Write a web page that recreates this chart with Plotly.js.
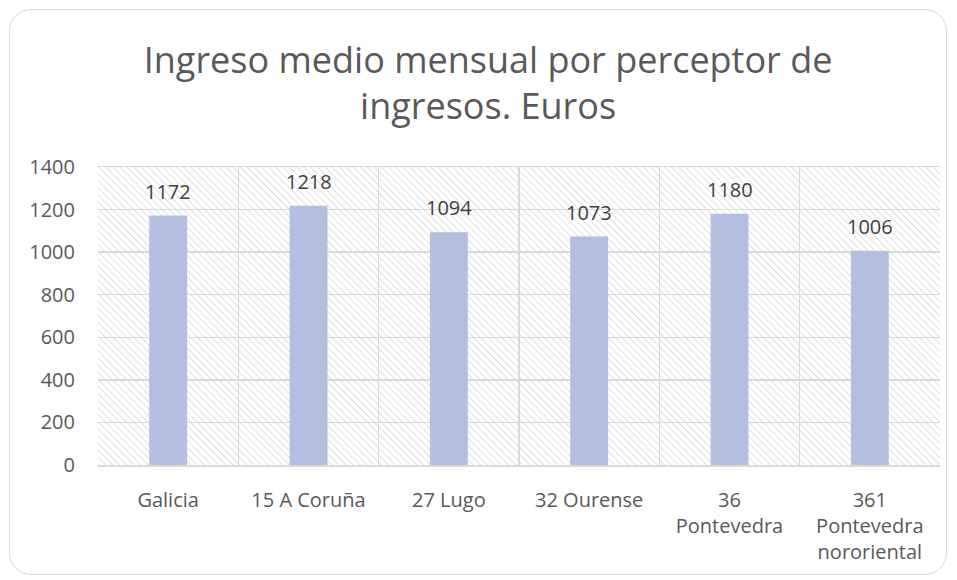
<!DOCTYPE html>
<html>
<head>
<meta charset="utf-8">
<script src="https://cdn.plot.ly/plotly-3.0.1.min.js"></script>
<style>
html,body{margin:0;padding:0;background:#fff;}
#frame{position:absolute;left:9px;top:9px;width:936px;height:564px;border:1.5px solid #d9d9d9;border-radius:22px;}
#chart{position:absolute;left:0;top:0;width:957px;height:580px;}
</style>
</head>
<body>
<div id="frame"></div>
<div id="chart"></div>
<script>
const categories = ["Galicia", "15 A Coruña", "27 Lugo", "32 Ourense", "36<br>Pontevedra", "361<br>Pontevedra<br>nororiental"];
const values = [1172, 1218, 1094, 1073, 1180, 1006];
const yTicks = [0, 200, 400, 600, 800, 1000, 1200, 1400];
const titleText = "Ingreso medio mensual por perceptor de<br>ingresos. Euros";

const FONT = "Open Sans, Segoe UI, DejaVu Sans, sans-serif";

// diagonal hatch for plot background
const W = 842, H = 297;
const svg = `<svg xmlns="http://www.w3.org/2000/svg" width="${W}" height="${H}" viewBox="0 0 ${W} ${H}" preserveAspectRatio="none">
<defs><pattern id="p" width="5" height="5" patternUnits="userSpaceOnUse" patternTransform="rotate(-45)">
<rect width="5" height="5" fill="#ffffff"/><line x1="0" y1="0" x2="0" y2="5" stroke="#d2d2d2" stroke-width="1.3"/></pattern></defs>
<rect width="${W}" height="${H}" fill="url(#p)"/></svg>`;
const hatchUri = "data:image/svg+xml;charset=utf-8," + encodeURIComponent(svg);

const bars = {
  type: "bar", x: categories, y: values, width: 0.27,
  marker: {color: "#b4bfdf", line: {width: 0}},
  hoverinfo: "x+y", showlegend: false
};

const annotations = categories.map((c, i) => ({
  x: c, y: values[i], xref: "x", yref: "y", text: String(values[i]),
  showarrow: false, yanchor: "bottom", yshift: 9,
  font: {family: FONT, size: 20, color: "#404040"}
}));

const layout = {
  width: 957, height: 580,
  margin: {l: 98, r: 17, t: 167, b: 115},
  paper_bgcolor: "rgba(0,0,0,0)",
  plot_bgcolor: "rgba(0,0,0,0)",
  title: {text: titleText, x: 0.51, xanchor: "center", xref: "container", y: 0.875, yanchor: "top", yref: "container",
    font: {family: FONT, size: 36, color: "#595959"}},
  images: [{source: hatchUri, xref: "paper", yref: "paper", x: 0, y: 1, sizex: 1, sizey: 1,
    xanchor: "left", yanchor: "top", sizing: "stretch", layer: "below"}],
  xaxis: {type: "category", tickson: "boundaries", showgrid: true, gridcolor: "#d9d9d9", gridwidth: 1.5,
    zeroline: false, showline: true, linecolor: "#d9d9d9", linewidth: 1.5, mirror: true, ticks: "",
    tickfont: {family: FONT, size: 20, color: "#595959"}, ticklabelstandoff: 16, fixedrange: true},
  yaxis: {range: [0, 1400], tickvals: yTicks, showgrid: true, gridcolor: "#d9d9d9", gridwidth: 1.5,
    zeroline: false, showline: false, ticks: "", ticklabelstandoff: 22,
    tickfont: {family: FONT, size: 20, color: "#595959"}, fixedrange: true},
  annotations: annotations
};

Plotly.newPlot("chart", [bars], layout, {displayModeBar: false, staticPlot: true});
</script>
</body>
</html>
